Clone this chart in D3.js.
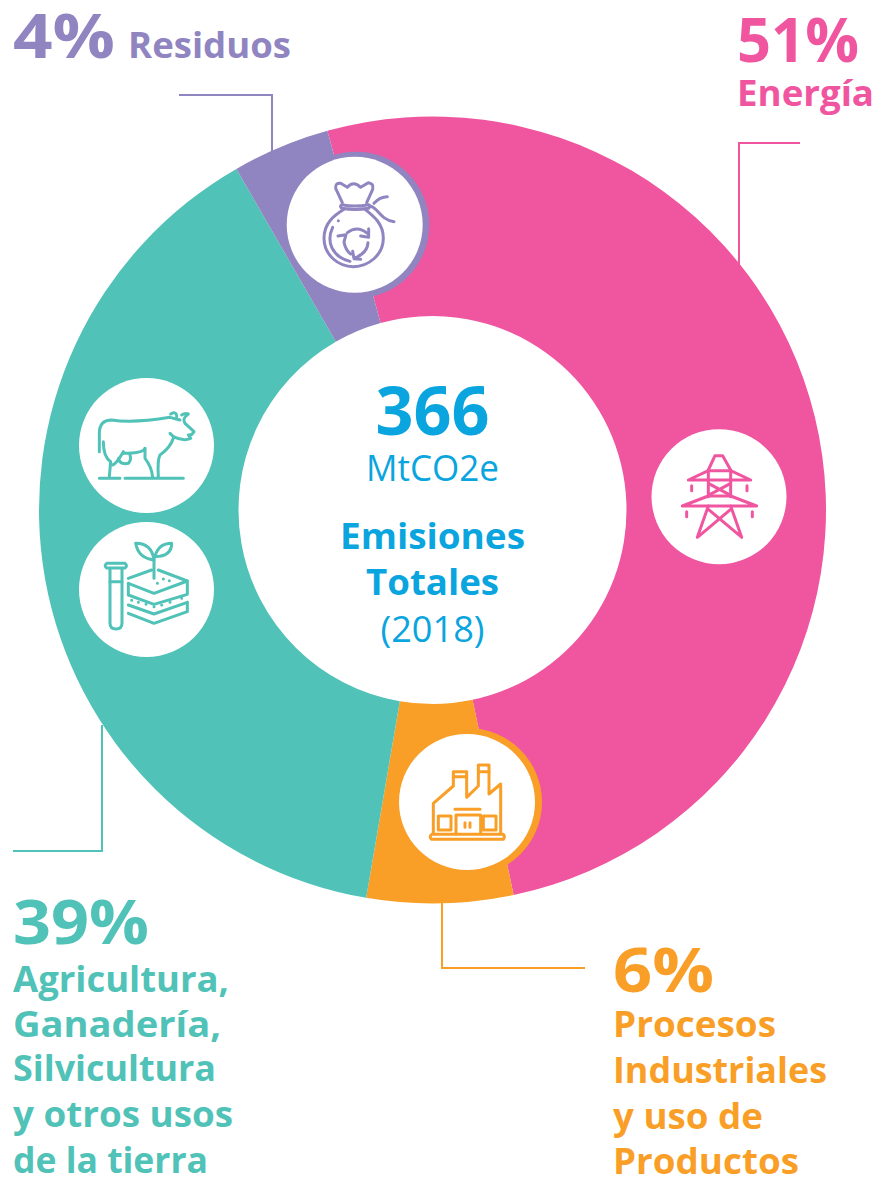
<!DOCTYPE html>
<html lang="es">
<head>
<meta charset="utf-8">
<script src="https://cdnjs.cloudflare.com/ajax/libs/d3/7.8.5/d3.min.js"></script>
<style>
html,body{margin:0;padding:0;background:#fff;}
svg{display:block;}
text{font-family:"Open Sans",sans-serif;}
</style>
</head>
<body>
<svg id="chart" width="879" height="1178"></svg>
<script>
// Emission sectors, clockwise from the top of the ring
const sectors = ["Energía", "Procesos Industriales y uso de Productos", "Agricultura, Ganadería, Silvicultura y otros usos de la tierra", "Residuos"];
const shares = [51, 6, 39, 4];
const sectorColors = ["#f0559f", "#f99f27", "#50c2b7", "#9085c0"];
const totalValue = "366";
const totalUnit = "MtCO2e";
const totalLines = ["Emisiones", "Totales"];
const totalYear = "(2018)";

const svg = d3.select("#chart");
const cx = 432.5, cy = 510, outerR = 393.5, innerR = 194;
const blue = "#0aa5de";
const [pink, orange, teal, purple] = sectorColors;

// Ring
const pie = d3.pie().sort(null)
  .startAngle(-15.5 * Math.PI / 180)
  .endAngle(344.5 * Math.PI / 180);
const arc = d3.arc().innerRadius(innerR).outerRadius(outerR);
svg.append("g").attr("transform", `translate(${cx},${cy})`)
  .selectAll("path").data(pie(shares)).join("path")
  .attr("d", arc)
  .attr("fill", (d, i) => sectorColors[i]);

// Leader lines from the ring to each label
const leaders = [
  {c: pink, d: "M800 143H739V268"},
  {c: purple, d: "M179 95H272V156"},
  {c: teal, d: "M102 725V851H13"},
  {c: orange, d: "M442 903V968H585"}
];
svg.append("g").attr("fill", "none").attr("stroke-width", 2)
  .selectAll("path").data(leaders).join("path")
  .attr("d", d => d.d).attr("stroke", d => d.c);

// Pictogram badges, each icon drawn on a 3x grid anchored at ox/oy
const badges = [
  {x: 354.7, y: 224.7, r: 68, ring: {x: 356, y: 225, r: 73.3}, c: purple, ox: 270, oy: 140, icon: [
    "M217 188L197 145Q195 128 212 130L232 142Q250 120 272 142L295 128Q312 130 308 148L290 188",
    "M215 194Q255 202 296 194Q302 200 296 205Q255 212 215 205Q208 200 215 194Z",
    "M222 208C190 228 162 250 162 295C162 345 205 380 250 380C295 380 340 345 340 295C340 250 310 228 285 208",
    "M205 242h.1",
    "M188 262C168 305 185 350 240 364",
    "M232 278Q262 255 292 280M296 266L296 292L272 288",
    "M204 288L228 284L222 306Q226 330 242 342",
    "M294 308Q292 340 254 354M248 334L252 356L272 358",
    "M300 198C322 200 330 240 372 245M312 190C325 175 335 170 352 170"
  ]},
  {x: 719, y: 496.7, r: 67.5, c: pink, ox: 640, oy: 420, icon: [
    "M205 150L225 107H248L272 150",
    "M145 180L205 152H272L332 180Z",
    "M205 152V230M272 152V230M205 190L272 226M272 190L205 226",
    "M127 258L205 228H272L350 258Z",
    "M205 258L172 352M272 258L305 352M205 268L303 350M272 268L175 350",
    "M155 197V212M321 197V212M140 275V290M337 275V290"
  ]},
  {x: 467, y: 802, r: 68, ring: {x: 468, y: 802, r: 74}, c: orange, ox: 390, oy: 720, icon: [
    "M130 340V250L190 198V155H230V232L265 198V135H297V222L332 192V340",
    "M192 170H230M265 155H297",
    "M125 343H340Q346 350 340 358H125Q116 350 125 343Z",
    "M195 268H270",
    "M198 342V285H272V342",
    "M145 288H183V330H145ZM280 288H318V330H280Z",
    "M225 308V322M240 308V322"
  ]},
  {x: 146.5, y: 445.5, r: 67.5, c: teal, ox: 70, oy: 370, icon: [
    "M88 245V190Q88 150 125 150Q190 160 300 142L330 150",
    "M302 132Q320 122 320 140",
    "M335 135Q345 128 355 132Q335 145 345 160L372 185Q365 197 355 195L362 205Q340 215 310 200L300 190",
    "M310 205Q300 235 270 255Q262 270 265 320",
    "M225 235Q220 250 160 250",
    "M100 215Q100 260 122 275L118 320",
    "M160 245Q140 280 128 285",
    "M145 265Q150 285 175 280Q185 270 180 255",
    "M225 235V265Q245 290 248 322",
    "M88 325H150M165 325H340"
  ]},
  {x: 146.5, y: 589.5, r: 67.5, c: teal, ox: 70, oy: 515, icon: [
    "M120 160V325Q120 342 138 342Q156 342 156 325V160",
    "M110 145H165Q174 152 165 159H110Q101 152 110 145Z",
    "M120 200H156",
    "M252 190V125",
    "M252 135Q205 130 197 85Q245 85 252 135Z",
    "M255 125Q265 85 305 85Q305 125 255 125Z",
    "M175 190L245 165M265 165L352 198L252 235L175 205",
    "M175 205V240L252 268L352 238V198",
    "M175 270L252 297L352 262",
    "M175 295L252 325L352 290V262",
    "M262 205h.1M280 192h.1M298 197h.1M185 256h.1M205 262h.1M228 268h.1M252 275h.1M275 270h.1M300 262h.1M335 250h.1"
  ]}
];
const badge = svg.append("g").selectAll("g").data(badges).join("g");
badge.filter(d => d.ring).append("circle")
  .attr("cx", d => d.ring.x).attr("cy", d => d.ring.y).attr("r", d => d.ring.r)
  .attr("fill", d => d.c);
badge.append("circle")
  .attr("cx", d => d.x).attr("cy", d => d.y).attr("r", d => d.r).attr("fill", "#fff");
badge.append("g")
  .attr("transform", d => `translate(${d.ox},${d.oy}) scale(${1 / 3})`)
  .attr("fill", "none").attr("stroke", d => d.c)
  .attr("stroke-width", 9).attr("stroke-linecap", "round").attr("stroke-linejoin", "round")
  .selectAll("path").data(d => d.icon).join("path").attr("d", d => d);

// Text helper; `width` stretches the run to a set advance
function label(str, x, y, size, color, weight, anchor, width) {
  const t = svg.append("text").attr("x", x).attr("y", y)
    .attr("font-size", size).attr("font-weight", weight)
    .attr("fill", color).attr("text-anchor", anchor).text(str);
  if (width) t.attr("textLength", width).attr("lengthAdjust", "spacingAndGlyphs");
}

// Centre of the ring
label(totalValue, cx, 435, 66, blue, 700, "middle", 114);
label(totalUnit, cx, 481, 36, blue, 400, "middle", 133);
label(totalLines[0], cx, 549, 35, blue, 700, "middle", 185);
label(totalLines[1], cx, 595, 35, blue, 700, "middle", 133);
label(totalYear, cx, 642, 36, blue, 400, "middle", 104);

// Sector labels
label(shares[3] + "%", 13, 58, 60, purple, 700, "start", 102);
label("Residuos", 128, 58, 35, purple, 700, "start", 163);

label(shares[0] + "%", 737, 62, 60, pink, 700, "start", 122);
label("Energía", 737, 106, 35, pink, 700, "start", 137);

label(shares[2] + "%", 13, 944, 60, teal, 700, "start", 136);
const tealLines = ["Agricultura,", "Ganadería,", "Silvicultura", "y otros usos", "de la tierra"];
const tealWidths = [216, 208, 203, 220, 195];
tealLines.forEach((s, i) => label(s, 13, [992, 1037, 1081, 1127, 1173][i], 35, teal, 700, "start", tealWidths[i]));

label(shares[1] + "%", 613, 992, 60, orange, 700, "start", 101);
const orangeLines = ["Procesos", "Industriales", "y uso de", "Productos"];
const orangeWidths = [163, 214, 150, 186];
orangeLines.forEach((s, i) => label(s, 613, [1037, 1083, 1129, 1174][i], 35, orange, 700, "start", orangeWidths[i]));
</script>
</body>
</html>
